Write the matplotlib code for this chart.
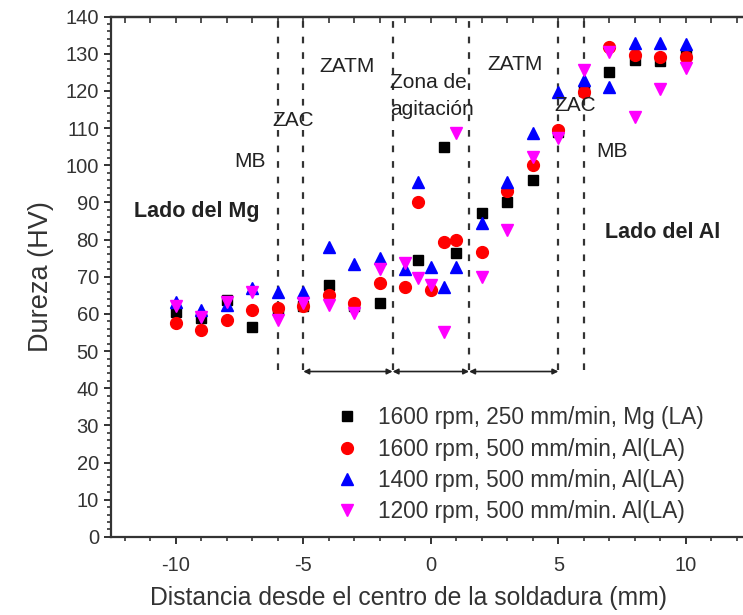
import matplotlib
matplotlib.use("Agg")
import matplotlib.pyplot as plt
from matplotlib.ticker import MultipleLocator

plt.rcParams['font.family'] = ['Liberation Sans', 'DejaVu Sans']
plt.rcParams['axes.unicode_minus'] = False

# hardness profiles, HV vs distance from weld centre (mm)
x_mg = [-10, -9, -8, -7, -6, -5, -4, -3, -2, -0.5, 0.5, 1, 2, 3, 4, 5, 6, 7, 8, 9, 10]
hv_mg = [60.6, 59, 63.8, 56.6, 61, 62, 67.8, 62, 63, 74.6, 105, 76.5, 87.2, 90.2,
         96.1, 109, 120, 125.2, 128.4, 128, 129.8]

x_al = [-10, -9, -8, -7, -6, -5, -4, -3, -2, -1, -0.5, 0, 0.5, 1, 2, 3, 4, 5, 6, 7, 8, 9, 10]
hv_1600 = [57.6, 55.7, 58.4, 61, 61.6, 62, 65.2, 63, 68.4, 67.3, 90, 66.5, 79.4, 80,
           76.7, 93, 100.2, 109.6, 119.8, 131.7, 129.8, 129, 129]
hv_1400 = [63.3, 61, 62.5, 67, 66, 66, 78, 73.5, 75, 72, 95.6, 72.7, 67.3, 72.7,
           84.5, 95.6, 108.8, 119.8, 123, 121, 133, 133, 132.5]
hv_1200 = [62, 59.3, 63.3, 66, 58.4, 63, 62.5, 60.3, 72, 73.8, 69.7, 67.8, 55.2, 108.8,
           70, 82.7, 102.3, 107.4, 125.7, 130.6, 113, 120.4, 126.3]

labels = ["1600 rpm, 250 mm/min, Mg (LA)",
          "1600 rpm, 500 mm/min, Al(LA)",
          "1400 rpm, 500 mm/min, Al(LA)",
          "1200 rpm, 500 mm/min. Al(LA)"]

zone_lines = [-6, -5, -1.5, 1.5, 5, 6]
arrow_spans = [(-5, -1.5), (-1.5, 1.5), (1.5, 5)]
zone_text = [(-7.1, 101, "MB"), (-5.4, 112, "ZAC"), (-3.3, 126.5, "ZATM"),
             (3.3, 127, "ZATM"), (5.65, 116, "ZAC"), (7.1, 103.7, "MB")]

fig = plt.figure(figsize=(7.43, 6.15), dpi=100)
ax = fig.add_axes([0.149, 0.127, 0.86, 0.846])

ax.plot(x_mg, hv_mg, 's', color='black', ms=7.8, label=labels[0], zorder=3)
ax.plot(x_al, hv_1600, 'o', color='red', ms=8.5, label=labels[1], zorder=3)
ax.plot(x_al, hv_1400, '^', color='blue', ms=9, label=labels[2], zorder=3)
ax.plot(x_al, hv_1200, 'v', color='magenta', ms=9, label=labels[3], zorder=3)

for xl in zone_lines:
    ax.plot([xl, xl], [45, 140], color='#333333', ls=(0, (3, 4)), lw=1.6, zorder=2)
for a, b in arrow_spans:
    ax.annotate("", xy=(b, 44.5), xytext=(a, 44.5),
                arrowprops=dict(arrowstyle='<|-|>', color='#222222', lw=1.2,
                                mutation_scale=8, shrinkA=0, shrinkB=0))

for tx, ty, t in zone_text:
    ax.text(tx, ty, t, fontsize=15, ha='center', va='center', color='#222222')
ax.text(-1.6, 118.6, "Zona de\nagitación", fontsize=15, ha='left', va='center',
        color='#222222', linespacing=1.5)
ax.text(-9.18, 87.5, "Lado del Mg", fontsize=15.5, fontweight='bold',
        ha='center', va='center', color='#222222')
ax.text(9.1, 82, "Lado del Al", fontsize=15.5, fontweight='bold',
        ha='center', va='center', color='#222222')

ax.set_xlim(-12.55, 12.5)
ax.set_ylim(0, 140)
ax.xaxis.set_major_locator(MultipleLocator(5))
ax.xaxis.set_minor_locator(MultipleLocator(1))
ax.yaxis.set_major_locator(MultipleLocator(10))
ax.yaxis.set_minor_locator(MultipleLocator(2))
ax.tick_params(axis='both', which='both', direction='out', colors='#333333',
               labelsize=14.5, labelcolor='#333333')
ax.tick_params(which='major', length=5, width=1.4)
ax.tick_params(which='minor', length=3, width=1.2)
ax.tick_params(axis='x', which='major', pad=9)

# top axis: unlabelled ticks pointing inwards
top = ax.secondary_xaxis('top')
top.set_xticks(range(-12, 13))
top.tick_params(direction='in', length=4, width=1.2, labeltop=False, colors='#333333')
top.spines['top'].set_linewidth(1.6)
top.spines['top'].set_color('#333333')
for sp in ax.spines.values():
    sp.set_linewidth(1.6)
    sp.set_color('#333333')

ax.set_ylabel("Dureza (HV)", fontsize=19.5, color='#333333', labelpad=8)
ax.set_xlabel("Distancia desde el centro de la soldadura (mm)", fontsize=17.8,
              color='#333333')
ax.xaxis.set_label_coords(0.466, -0.095)

ax.legend(loc='upper left', bbox_to_anchor=(0.31, 0.29), frameon=False,
          fontsize=16.3, labelspacing=0.36, handletextpad=0.55, handlelength=1.6,
          labelcolor='#333333')

fig.savefig("out.png", dpi=100)
